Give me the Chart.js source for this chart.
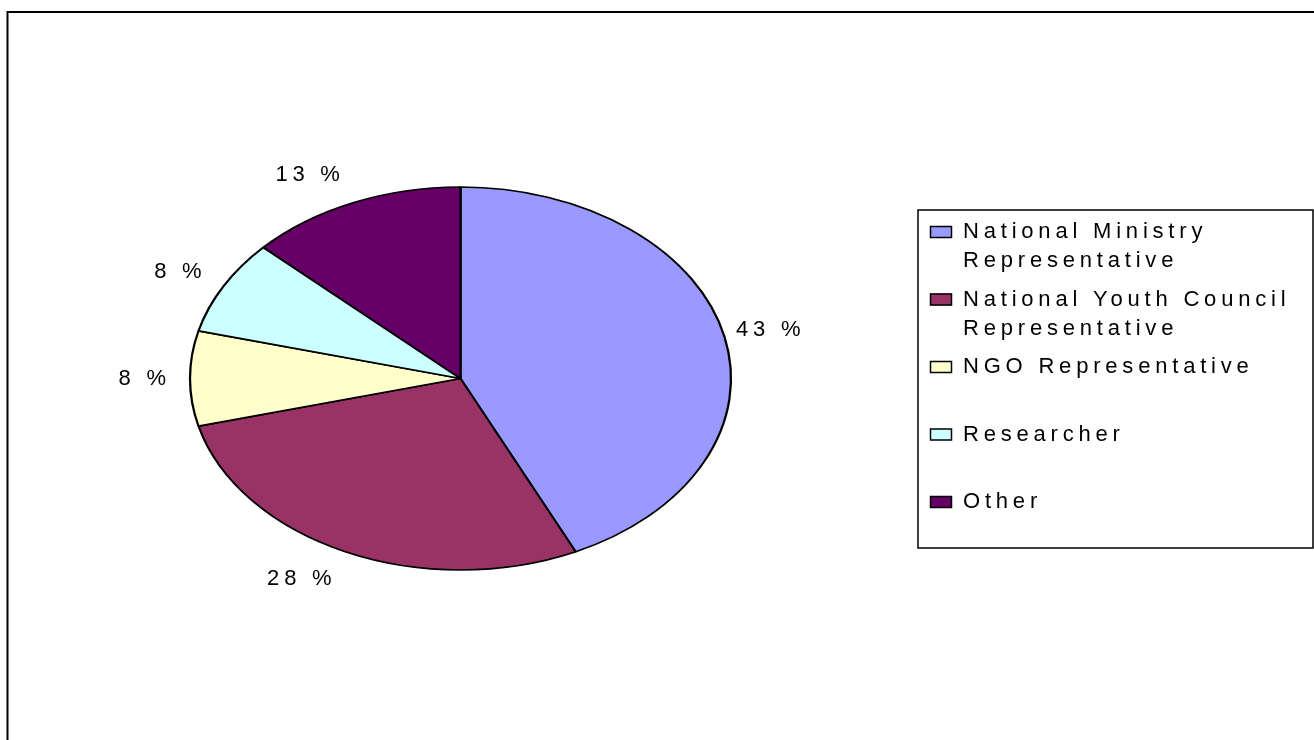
<!DOCTYPE html>
<html>
<head>
<meta charset="utf-8">
<script src="https://cdn.jsdelivr.net/npm/chart.js@4"></script>
<style>
  html, body { margin: 0; padding: 0; background: #fff; overflow: hidden; }
  canvas { display: block; }
</style>
</head>
<body>
<canvas id="roleChart" width="1314" height="740"></canvas>
<script>
// Share of respondents by role (percent)
const roles = [
    "National Ministry Representative",
    "National Youth Council Representative",
    "NGO Representative",
    "Researcher",
    "Other",
];
const shares = [43, 28, 8, 8, 13];
const sliceColors = ["#9999FF", "#993366", "#FFFFCC", "#CCFFFF", "#660066"];

const FONT = '22px "Liberation Sans", Arial, sans-serif';
const SPACING = 4.8;
const STRETCH = 270.5 / 191.5; // pie is drawn as a wide ellipse

// squash the round pie into an ellipse around its centre
const ellipsePlugin = {
    id: "ellipse",
    beforeDatasetsDraw(chart) {
        const arc = chart.getDatasetMeta(0).data[0];
        const ctx = chart.ctx;
        ctx.save();
        ctx.translate(arc.x, arc.y);
        ctx.scale(STRETCH, 1);
        ctx.translate(-arc.x, -arc.y);
    },
    afterDatasetsDraw(chart) {
        chart.ctx.restore();
    },
};

// outer frame, percent labels and the boxed legend
const decorPlugin = {
    id: "decor",
    beforeDraw(chart) {
        const ctx = chart.ctx;
        ctx.save();
        ctx.fillStyle = "#fff";
        ctx.fillRect(0, 0, chart.width, chart.height);
        ctx.strokeStyle = "#000";
        ctx.lineWidth = 2;
        ctx.strokeRect(7.5, 12, chart.width + 20, chart.height + 20);
        ctx.restore();
    },
    afterDraw(chart) {
        const ctx = chart.ctx;
        ctx.save();
        ctx.font = FONT;
        ctx.letterSpacing = SPACING + "px";
        ctx.fillStyle = "#000";
        ctx.textBaseline = "middle";
        ctx.textAlign = "left";

        // percent labels just outside each slice
        chart.getDatasetMeta(0).data.forEach((arc, i) => {
            const a = (arc.startAngle + arc.endAngle) / 2;
            const rx = arc.outerRadius * STRETCH;
            const ry = arc.outerRadius;
            const x = arc.x + Math.cos(a) * (rx + 18) - 6;
            const y = arc.y + Math.sin(a) * (ry + 30);
            const text = shares[i] + " %";
            const w = ctx.measureText(text).width - SPACING;
            ctx.fillText(text, Math.cos(a) >= 0 ? x : x - w, y);
        });

        // legend box
        const box = { left: 918, top: 210, right: 1313, bottom: 548 };
        ctx.lineWidth = 1.5;
        ctx.strokeStyle = "#000";
        ctx.strokeRect(box.left, box.top, box.right - box.left, box.bottom - box.top);

        const textX = 963;
        const maxW = box.right - textX - 4;
        roles.forEach((label, i) => {
            const cy = 232 + i * 67.5;
            // wrap the label by words
            const lines = [];
            let line = "";
            label.split(" ").forEach(word => {
                const test = line ? line + " " + word : word;
                if (line && ctx.measureText(test).width - SPACING > maxW) {
                    lines.push(line);
                    line = word;
                } else {
                    line = test;
                }
            });
            lines.push(line);

            ctx.fillStyle = sliceColors[i];
            ctx.fillRect(930, cy - 6, 22, 12);
            ctx.lineWidth = 1.5;
            ctx.strokeRect(930.5, cy - 5.5, 21, 11);

            ctx.fillStyle = "#000";
            lines.forEach((l, j) => ctx.fillText(l, textX, cy + j * 29));
        });
        ctx.restore();
    },
};

const config = {
    type: "pie",
    data: {
        labels: roles,
        datasets: [{
            data: shares,
            backgroundColor: sliceColors,
            borderColor: "#000",
            borderWidth: 1.6,
            hoverOffset: 0,
        }],
    },
    options: {
        responsive: false,
        animation: false,
        radius: 191.5,
        layout: { padding: { left: 0, right: 393, top: 17, bottom: 0 } },
        plugins: {
            legend: { display: false },
            tooltip: { enabled: false },
        },
    },
    plugins: [ellipsePlugin, decorPlugin],
};

new Chart(document.getElementById("roleChart").getContext("2d"), config);
</script>
</body>
</html>
